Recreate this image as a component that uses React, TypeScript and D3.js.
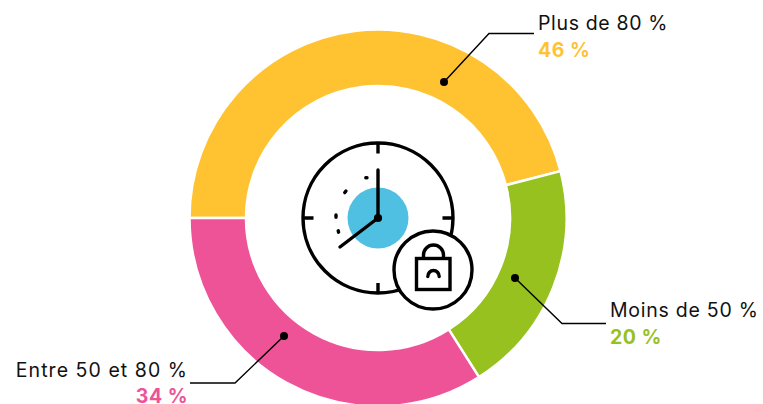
import React from "react";
import * as d3 from "d3";

const categories = ["Plus de 80 %", "Moins de 50 %", "Entre 50 et 80 %"];
const values = [46, 20, 34];
const valueLabels = ["46 %", "20 %", "34 %"];
const colors = ["#FFC332", "#97C11F", "#EE5397"];

const cx = 378, cy = 218, R = 188.5, r = 132;
const pie = d3.pie<number>().sort(null).startAngle(-Math.PI / 2).endAngle(1.5 * Math.PI);
const arc = d3.arc<d3.PieArcDatum<number>>().innerRadius(r).outerRadius(R);
const arcs = pie(values);

const callouts = [
  { path: "M444 82 L489 33.5 L534 33.5", dot: [444, 82], x: 538, y: 30, vy: 57, anchor: "start", ls: 0.65 },
  { path: "M515 278 L562 323.5 L606 323.5", dot: [515, 278], x: 610, y: 317, vy: 344, anchor: "start", ls: 0.75 },
  { path: "M284 336 L235 383 L190 383", dot: [284, 336], x: 188, y: 377, vy: 403, anchor: "end", ls: 1.05 },
];
const font = "Inter, sans-serif";

export default function App() {
  return (
    <svg width={763} height={404} style={{ position: "absolute", left: 0, top: 0 }}>
      <g transform={`translate(${cx},${cy})`}>
        {arcs.map((a, i) => (
          <path key={i} d={arc(a) as string} fill={colors[i]} stroke="#fff" strokeWidth={2.5} />
        ))}
      </g>
      {callouts.map((c, i) => (
        <g key={i}>
          <path d={c.path} fill="none" stroke="#000" strokeWidth={1.4} />
          <circle cx={c.dot[0]} cy={c.dot[1]} r={4} fill="#000" />
          <text x={c.x} y={c.y} textAnchor={c.anchor as any} fontFamily={font} fontSize={19.5} fill="#111" letterSpacing={c.ls}>{categories[i]}</text>
          <text x={c.x} y={c.vy} textAnchor={c.anchor as any} fontFamily={font} fontSize={19.5} fontWeight={700} fill={colors[i]} letterSpacing={0.5}>{valueLabels[i]}</text>
        </g>
      ))}
      <g fill="none" stroke="#000" strokeWidth={3.4} strokeLinecap="round">
        <circle cx={378} cy={218} r={30.5} fill="#50C0E2" stroke="none" />
        <circle cx={378} cy={218} r={75} />
        <path d="M378 143V153.5M378 283V293M303 218H313.5M442.5 218H453" strokeLinecap="butt" />
        <path d="M378 218V170M378 218L340 247" />
        <path d="M365.8 177.7h1.2M344.8 192.6l1.2-1.6M336 217.2v-2.2M338.2 230.8l.4 1.4" />
        <circle cx={378} cy={218} r={2.4} fill="#000" />
        <circle cx={433} cy={270} r={39} fill="#fff" />
        <rect x={416.5} y={258.5} width={33.5} height={31} />
        <path d="M423.5 258V255a10 10 0 0 1 20 0V258" />
        <path d="M427.8 276.5a5.7 6 0 0 1 11.4 0" />
      </g>
    </svg>
  );
}
